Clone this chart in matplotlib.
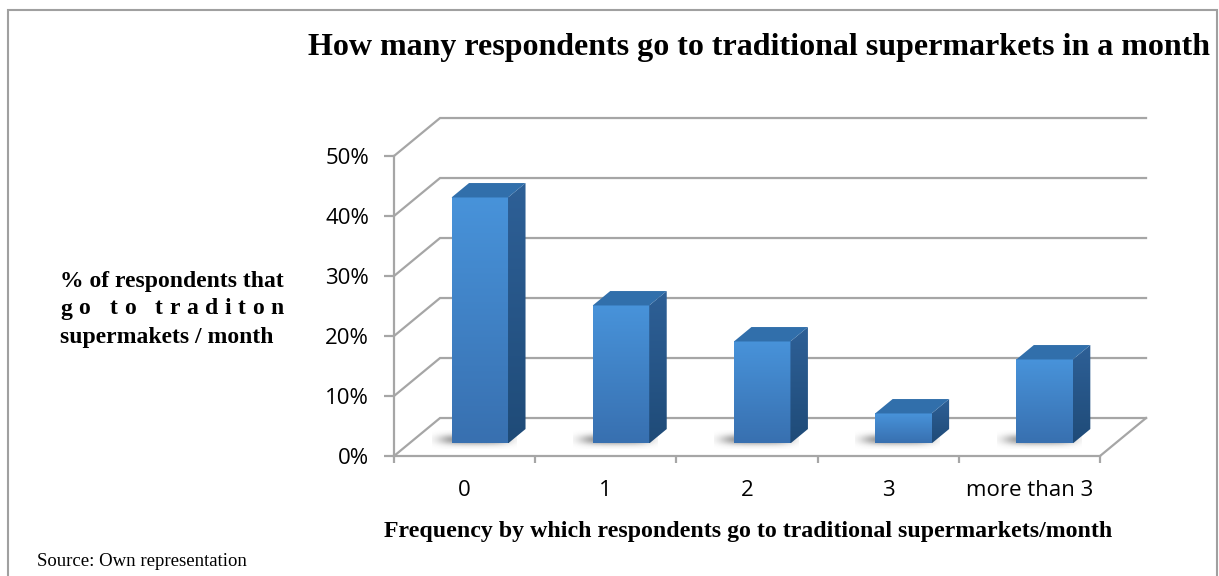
import matplotlib
matplotlib.use("Agg")
import matplotlib.pyplot as plt
from matplotlib.patches import Polygon, Rectangle
from matplotlib.colors import LinearSegmentedColormap
import numpy as np

plt.rcParams['font.family'] = ['Open Sans', 'DejaVu Sans']

categories = ["0", "1", "2", "3", "more than 3"]
shares = [41, 23, 17, 5, 14]          # % of respondents
y_ticks = [0, 10, 20, 30, 40, 50]

title = "How many respondents go to traditional supermarkets in a month"
xlabel = "Frequency by which respondents go to traditional supermarkets/month"
ylabel_lines = ["% of respondents that", "go to traditon", "supermakets / month"]
source = "Source: Own representation"

W, H = 1219, 576
fig = plt.figure(figsize=(W / 100, H / 100), dpi=100)

# front plane of the fake 3d box, in pixels
ax = fig.add_axes([394 / W, (H - 456) / H, 706 / W, 300 / H])
ax.set_xlim(-0.5, len(categories) - 0.5)
ax.set_ylim(0, 50)
ax.set_facecolor('none')

grid_c = '#a6a6a6'
DX, DY = 0.326, 6.33      # full depth of the box (category units, % units)
d0, d1 = 0.33, 0.71       # bar depth range (fraction of the box)
bw = 0.40                 # bar width

# walls / floor
xr = len(categories) - 0.5
for v in y_ticks:
    ax.plot([-0.5, -0.5 + DX, xr + DX], [v, v + DY, v + DY], color=grid_c, lw=1.6,
            clip_on=False, zorder=1, solid_joinstyle='miter')
ax.plot([xr, xr + DX], [0, DY], color=grid_c, lw=1.6, clip_on=False, zorder=1)

for s in ['top', 'right']:
    ax.spines[s].set_visible(False)
for s in ['left', 'bottom']:
    ax.spines[s].set_color(grid_c)
    ax.spines[s].set_linewidth(1.6)

ax.set_yticks(y_ticks)
ax.set_yticklabels([f"{v}%" for v in y_ticks])
ax.set_xticks(range(len(categories)))
ax.set_xticklabels(categories)
ax.set_xticks(np.arange(-0.5, len(categories)), minor=True)
ax.tick_params(axis='y', length=7, width=1.6, color=grid_c, pad=11, labelsize=16)
ax.tick_params(axis='x', which='major', length=0, pad=17, labelsize=16)
ax.tick_params(axis='x', which='minor', length=5, width=1.6, color=grid_c)

# soft shadow image (grey with gaussian alpha)
gx, gy = np.meshgrid(np.linspace(-1, 1, 80), np.linspace(-1, 1, 40))
shadow = np.zeros((40, 80, 4))
shadow[..., :3] = 0.2
shadow[..., 3] = 0.55 * np.exp(-((np.abs(gx) ** 4) + (np.abs(gy) ** 2) * 1.5) * 2.2)

# bars
grad = np.linspace(0, 1, 100).reshape(-1, 1)
front_cm = LinearSegmentedColormap.from_list('f', ['#3870b0', '#4893da'])
side_cm = LinearSegmentedColormap.from_list('s', ['#1f4b78', '#2e6097'])
for i, v in enumerate(shares):
    x0 = i - bw / 2 + d0 * DX
    x1 = x0 + bw
    yb = d0 * DY
    yt = v + yb
    ddx, ddy = (d1 - d0) * DX, (d1 - d0) * DY
    # shadow on the floor, slightly left of the bar
    ax.imshow(shadow, extent=[x0 - 0.14, x1 + 0.06, yb - 0.9, yb + ddy * 0.9],
              origin='lower', aspect='auto', zorder=2, interpolation='bilinear')
    # front face with gradient
    rect = Rectangle((x0, yb), bw, v, fc='none', ec='none', zorder=3)
    ax.add_patch(rect)
    im = ax.imshow(grad, cmap=front_cm, extent=[x0, x1, yb, yt], origin='lower',
                   aspect='auto', zorder=3)
    im.set_clip_path(rect)
    # side face
    side = Polygon([(x1, yb), (x1 + ddx, yb + ddy), (x1 + ddx, yt + ddy), (x1, yt)], closed=True,
                   fc='none', ec='none', zorder=3)
    ax.add_patch(side)
    im2 = ax.imshow(grad, cmap=side_cm, extent=[x1, x1 + ddx, yb, yt + ddy], origin='lower',
                    aspect='auto', zorder=3)
    im2.set_clip_path(side)
    # top face
    top = Polygon([(x0, yt), (x1, yt), (x1 + ddx, yt + ddy), (x0 + ddx, yt + ddy)], closed=True,
                  fc='#316fab', ec='none', zorder=4)
    ax.add_patch(top)

ax.set_xlim(-0.5, len(categories) - 0.5)
ax.set_ylim(0, 50)

# texts
serif = 'Liberation Serif'
fig.text(759 / W, 1 - 48 / H, title, ha='center', va='center', family=serif,
         weight='bold', fontsize=23)
fig.text(748 / W, 1 - 531 / H, xlabel, ha='center', va='center', family=serif,
         weight='bold', fontsize=17.2)
fig.text(37 / W, 1 - 562 / H, source, ha='left', va='center', family=serif, fontsize=13.5)

# y label, justified block
lx = 60 / W
ly = [282, 309, 337]
lab_fs = 17
t1 = fig.text(lx, 1 - ly[0] / H, ylabel_lines[0], ha='left', va='center', family=serif,
              weight='bold', fontsize=lab_fs)
fig.text(lx, 1 - ly[2] / H, ylabel_lines[2], ha='left', va='center', family=serif,
         weight='bold', fontsize=lab_fs)
r = fig.canvas.get_renderer()
line_w = t1.get_window_extent(r).width
prop = t1.get_fontproperties()


def tw(s):
    a = r.get_text_width_height_descent(s + "|", prop, ismath=False)[0]
    b = r.get_text_width_height_descent("|", prop, ismath=False)[0]
    return a - b


chars = ylabel_lines[1]
natural = tw(chars)
gap = (line_w - natural) / (len(chars) - 1)
for k, ch in enumerate(chars):
    if ch == ' ':
        continue
    xp = 60 + tw(chars[:k]) + k * gap
    fig.text(xp / W, 1 - ly[1] / H, ch, ha='left', va='center', family=serif,
             weight='bold', fontsize=lab_fs)

# outer frame
fig.patches.append(Rectangle((8 / W, -0.05), (1217 - 8) / W, 1 - 10 / H + 0.05,
                             transform=fig.transFigure, fill=False, ec='#a0a0a0', lw=1.5))

fig.savefig('out.png', dpi=100)
